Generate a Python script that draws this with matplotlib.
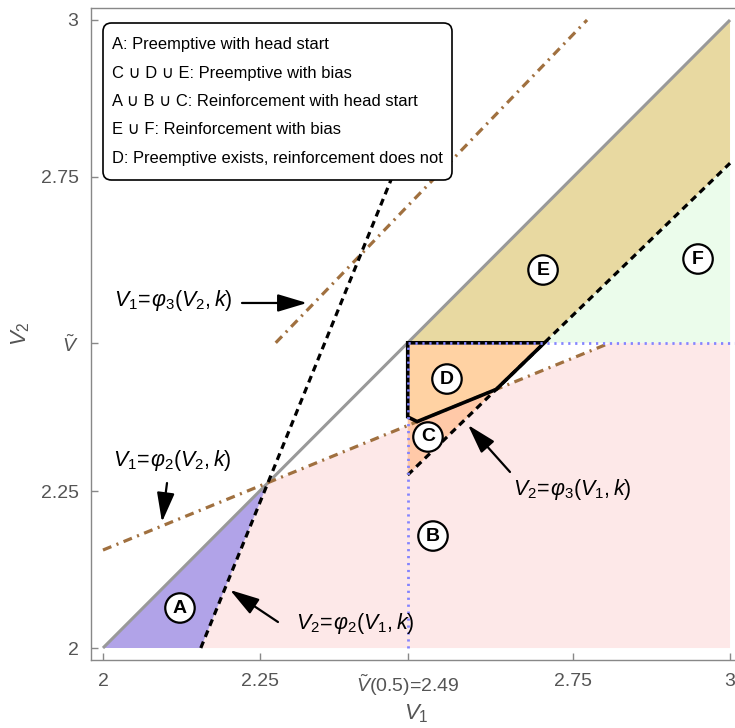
import numpy as np
import matplotlib
matplotlib.use("Agg")
import matplotlib.pyplot as plt
from matplotlib.patches import Polygon, FancyBboxPatch

plt.rcParams['font.family'] = ['Liberation Sans', 'DejaVu Sans']
plt.rcParams['mathtext.fontset'] = 'custom'
plt.rcParams['mathtext.rm'] = 'Liberation Sans'
plt.rcParams['mathtext.it'] = 'Liberation Sans:italic'
plt.rcParams['mathtext.bf'] = 'Liberation Sans:bold'
plt.rcParams['lines.scale_dashes'] = False

# ---------------- data ----------------
vt = 2.486                       # V-tilde
diag = [2.0, 3.0]                # V2 = V1
# black dashed: V2 = phi2(V1,k)
phi2_v1 = [2.156, 2.486]
phi2_v2 = [2.0, 2.811]
# brown dash-dot: V1 = phi2(V2,k)
phi2b_v1 = [2.0, 2.809]
phi2b_v2 = [2.156, 2.486]
# black dashed: V2 = phi3(V1,k)
phi3_v1 = [2.486, 3.0]
phi3_v2 = [2.2755, 2.772]
# brown dash-dot: V1 = phi3(V2,k)
phi3b_v1 = [2.2755, 2.772]
phi3b_v2 = [2.486, 3.0]
# corner of region D near the vertical line
d_corner = [(2.501, 2.3605), (2.486, 2.368)]

x_ticks = [2, 2.25, vt, 2.75, 3]
x_ticklabels = ['2', '2.25', r'$\tilde{V}$(0.5)=2.49', '2.75', '3']
y_ticks = [2, 2.25, vt, 2.75, 3]
y_ticklabels = ['2', '2.25', r'$\tilde{V}$', '2.75', '3']

legend_lines = ["A: Preemptive with head start",
                "C \u222a D \u222a E: Preemptive with bias",
                "A \u222a B \u222a C: Reinforcement with head start",
                "E \u222a F: Reinforcement with bias",
                "D: Preemptive exists, reinforcement does not"]

region_labels = ['A', 'B', 'C', 'D', 'E', 'F']
region_label_pos = [(2.1228, 2.0637), (2.5263, 2.1783), (2.5183, 2.336),
                    (2.5486, 2.4283), (2.7018, 2.6019), (2.949, 2.6194)]

colors = dict(A='#B1A3E8', B='#FDE8E8', C='#FFC9A8', D='#FFD2A3',
              E='#E8D9A1', F='#EBFCEB')

# ---------------- helpers ----------------
def intersect(xa, ya, xb, yb):
    sa = (ya[1] - ya[0]) / (xa[1] - xa[0])
    sb = (yb[1] - yb[0]) / (xb[1] - xb[0])
    x = (yb[0] - sb * xb[0] - ya[0] + sa * xa[0]) / (sa - sb)
    return x, ya[0] + sa * (x - xa[0])

p_int = intersect(phi2_v1, phi2_v2, diag, diag)          # phi2 x diagonal
p_c = intersect(phi3_v1, phi3_v2, phi2b_v1, phi2b_v2)    # phi3 x brown phi2
x_e = phi3_v1[0] + (vt - phi3_v2[0]) * (phi3_v1[1] - phi3_v1[0]) / (phi3_v2[1] - phi3_v2[0])

# ---------------- figure ----------------
fig = plt.figure(figsize=(7.35, 7.28), dpi=100)
W, H = 735, 728
ax = fig.add_axes([91 / W, (H - 660) / H, 651 / W, 652 / H])
ax.set_xlim(1.9809, 3.0191)
ax.set_ylim(1.9809, 3.0191)

polys = {
    'A': [(2, 2), p_int, (phi2_v1[0], 2)],
    'B': [(phi2_v1[0], 2), (3, 2), (3, vt), (phi2b_v1[1], vt), p_int],
    'C': [(vt, phi3_v2[0]), p_c, d_corner[0], d_corner[1]],
    'D': [(vt, vt), (x_e, vt), p_c, d_corner[0], d_corner[1]],
    'E': [(vt, vt), (3, 3), (3, phi3_v2[1]), (x_e, vt)],
    'F': [(x_e, vt), (3, phi3_v2[1]), (3, vt)],
}
for k in ['B', 'A', 'C', 'D', 'E', 'F']:
    ax.add_patch(Polygon(polys[k], closed=True, fc=colors[k], ec='none', zorder=1))

# diagonal
ax.plot(diag, diag, color='#999999', lw=2.2, zorder=3, solid_capstyle='butt')

brown = '#A0703F'
ax.plot(phi2b_v1, phi2b_v2, color=brown, lw=2.3, dashes=(6.5, 4, 1.5, 4), zorder=4)
ax.plot(phi3b_v1, phi3b_v2, color=brown, lw=2.3, dashes=(6.5, 4, 1.5, 4), zorder=4)
ax.plot(phi2_v1, phi2_v2, color='black', lw=2.3, dashes=(5, 3.6), zorder=5)
ax.plot(phi3_v1, phi3_v2, color='black', lw=2.3, dashes=(5, 3.6), zorder=5)

# D outline
ax.add_patch(Polygon(polys['D'], closed=True, fc='none', ec='black', lw=2.6,
                     joinstyle='miter', zorder=6))

# dotted guide lines
blue = '#8484FF'
ax.plot([vt, vt], [2, vt], color=blue, lw=2.0, dashes=(1.6, 3.4), zorder=7)
ax.plot([vt, 3.0191], [vt, vt], color=blue, lw=2.0, dashes=(1.6, 3.4), zorder=7)

# region labels
for lab, (x, y) in zip(region_labels, region_label_pos):
    ax.text(x, y, lab, ha='center', va='center', fontsize=14, fontweight='bold',
            zorder=9, bbox=dict(boxstyle='circle,pad=0.32', fc='white', ec='black', lw=1.6))

# curve labels and arrows
arrow_kw = dict(arrowstyle='-|>,head_length=1.0,head_width=0.3', color='black',
                lw=1.6, shrinkA=0, shrinkB=0, mutation_scale=18)
labels = [
    (r'$V_1\!=\!\varphi_3(V_2,k)$', (2.1124, 2.5541), (2.2217, 2.5494), (2.3254, 2.5494)),
    (r'$V_1\!=\!\varphi_2(V_2,k)$', (2.110, 2.2978), (2.1021, 2.2627), (2.0941, 2.2006)),
    (r'$V_2\!=\!\varphi_2(V_1,k)$', (2.4019, 2.0398), (2.2791, 2.0414), (2.2026, 2.0924)),
    (r'$V_2\!=\!\varphi_3(V_1,k)$', (2.748, 2.2516), (2.6491, 2.2803), (2.5821, 2.3551)),
]
for txt, (tx, ty), tail, tip in labels:
    ax.text(tx, ty, txt, ha='center', va='center', fontsize=15.5, zorder=9)
    ax.annotate('', xy=tip, xytext=tail, arrowprops=arrow_kw, zorder=9)

# legend box
def fx(px):
    return (px - 91) / 651
def fy(py):
    return (660 - py) / 652
box = FancyBboxPatch((fx(103), fy(180)), fx(452) - fx(103), fy(23) - fy(180),
                     boxstyle='round,pad=0,rounding_size=0.013', transform=ax.transAxes,
                     fc='white', ec='black', lw=1.2, zorder=10)
ax.add_patch(box)
for i, line in enumerate(legend_lines):
    ax.text(fx(112), fy(45 + 28.3 * i), line, transform=ax.transAxes, ha='left',
            va='center', fontsize=11.9, zorder=11)

# axes styling
for s in ['left', 'bottom', 'top', 'right']:
    ax.spines[s].set_color('#888888')
    ax.spines[s].set_linewidth(1.0)
ax.set_xticks(x_ticks)
ax.set_xticklabels(x_ticklabels)
ax.set_yticks(y_ticks)
ax.set_yticklabels(y_ticklabels)
ax.tick_params(direction='in', length=5, width=1, color='#888888',
               labelcolor='#555555', labelsize=14, pad=9)
ax.set_xlabel(r'$V_1$', fontsize=16, color='#555555', labelpad=3)
ax.set_ylabel(r'$V_2$', fontsize=16, color='#555555', labelpad=6)

fig.savefig('out.png', dpi=100)
